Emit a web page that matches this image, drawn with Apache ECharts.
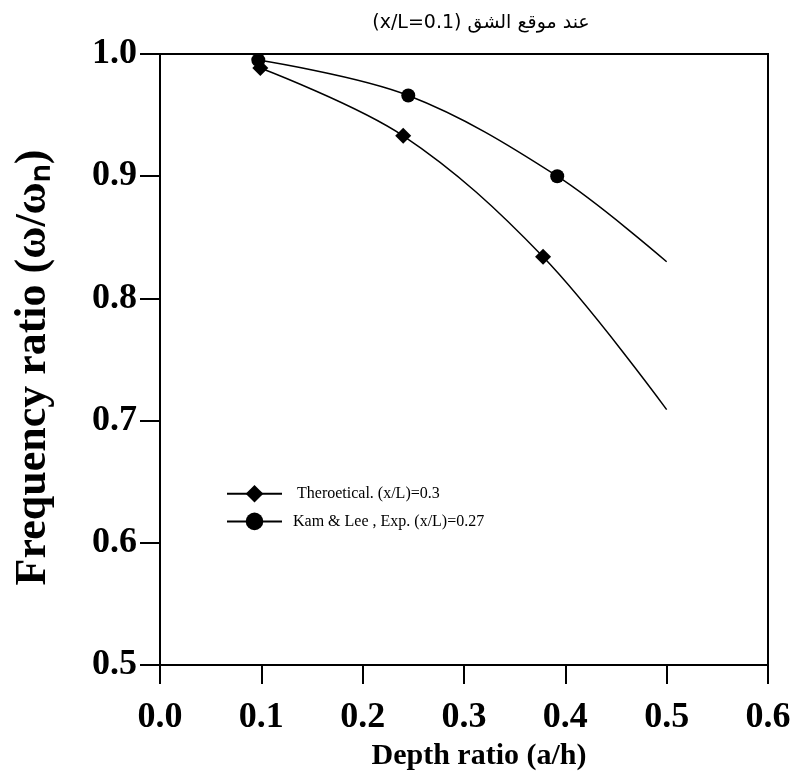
<!DOCTYPE html>
<html>
<head>
<meta charset="utf-8">
<script src="https://cdn.jsdelivr.net/npm/echarts@6/dist/echarts.min.js"></script>
<style>
    html, body {margin: 0; padding: 0; background: #fff;}
    #chart {width: 795px; height: 781px;}
</style>
</head>
<body>
<div id="chart"></div>
<script>
    // Theoretical (x/L)=0.3 : markers then curve end
    var theoX = [0.099, 0.24, 0.378, 0.5];
    var theoY = [0.9885, 0.933, 0.834, 0.709];
    // Kam & Lee, Exp. (x/L)=0.27
    var expX = [0.097, 0.245, 0.392, 0.5];
    var expY = [0.995, 0.966, 0.900, 0.830];
    var xTicks = [0.0, 0.1, 0.2, 0.3, 0.4, 0.5, 0.6];
    var yTicks = [0.5, 0.6, 0.7, 0.8, 0.9, 1.0];

    var serif = '"Liberation Serif", "Times New Roman", serif';

    function toPoints(xs, ys) {
        // last point is just the end of the curve, no marker
        return xs.map(function (x, i) {
            var p = {value: [x, ys[i]]};
            if (i === xs.length - 1) p.symbol = 'none';
            return p;
        });
    }

    var chart = echarts.init(document.getElementById('chart'));
    chart.setOption({
        animation: false,
        title: {
            text: '(x/L=0.1) عند موقع الشق',
            left: 476,
            textAlign: 'center',
            top: 9,
            textStyle: {fontFamily: '"DejaVu Sans", "Noto Sans", sans-serif', fontSize: 19, fontWeight: 'normal', color: '#000'}
        },
        grid: {
            left: 160, right: 27, top: 54, bottom: 116,
            show: true, borderColor: '#000', borderWidth: 2, backgroundColor: 'transparent'
        },
        legend: {
            orient: 'vertical',
            left: 221, top: 480,
            itemWidth: 55, itemHeight: 22, itemGap: 10,
            textStyle: {fontFamily: serif, fontSize: 16, color: '#000', padding: [0, 0, 0, 6]},
            data: [' Theroetical. (x/L)=0.3', 'Kam & Lee , Exp. (x/L)=0.27']
        },
        xAxis: {
            type: 'value',
            min: xTicks[0], max: xTicks[xTicks.length - 1], interval: 0.1,
            name: 'Depth ratio (a/h)',
            nameLocation: 'middle', nameGap: 72,
            nameTextStyle: {fontFamily: serif, fontSize: 30, fontWeight: 'bold', color: '#000', padding: [0, 0, 0, 30]},
            axisLine: {lineStyle: {color: '#000', width: 2}},
            axisTick: {show: true, inside: false, length: 19, lineStyle: {color: '#000', width: 2}},
            axisLabel: {
                margin: 35, color: '#000', fontFamily: serif, fontSize: 36, fontWeight: 'bold',
                formatter: function (v) { return v.toFixed(1); }
            },
            splitLine: {show: false}
        },
        yAxis: {
            type: 'value',
            min: yTicks[0], max: yTicks[yTicks.length - 1], interval: 0.1,
            name: 'Frequency ratio (ω/ωₙ)',
            nameLocation: 'middle', nameGap: 104,
            nameTextStyle: {fontFamily: serif, fontSize: 44, fontWeight: 'bold', color: '#000', padding: [0, 16, 0, 0]},
            axisLine: {lineStyle: {color: '#000', width: 2}},
            axisTick: {show: true, inside: false, length: 20, lineStyle: {color: '#000', width: 2}},
            axisLabel: {
                margin: 23, color: '#000', fontFamily: serif, fontSize: 36, fontWeight: 'bold',
                formatter: function (v) { return v.toFixed(1); }
            },
            splitLine: {show: false}
        },
        series: [
            {
                name: ' Theroetical. (x/L)=0.3',
                type: 'line',
                smooth: 0.35,
                symbol: 'diamond',
                symbolSize: 16,
                itemStyle: {color: '#000'},
                lineStyle: {color: '#000', width: 1.5},
                data: toPoints(theoX, theoY)
            },
            {
                name: 'Kam & Lee , Exp. (x/L)=0.27',
                type: 'line',
                smooth: 0.35,
                symbol: 'circle',
                symbolSize: 14,
                itemStyle: {color: '#000'},
                lineStyle: {color: '#000', width: 1.5},
                data: toPoints(expX, expY)
            }
        ]
    });
</script>
</body>
</html>
